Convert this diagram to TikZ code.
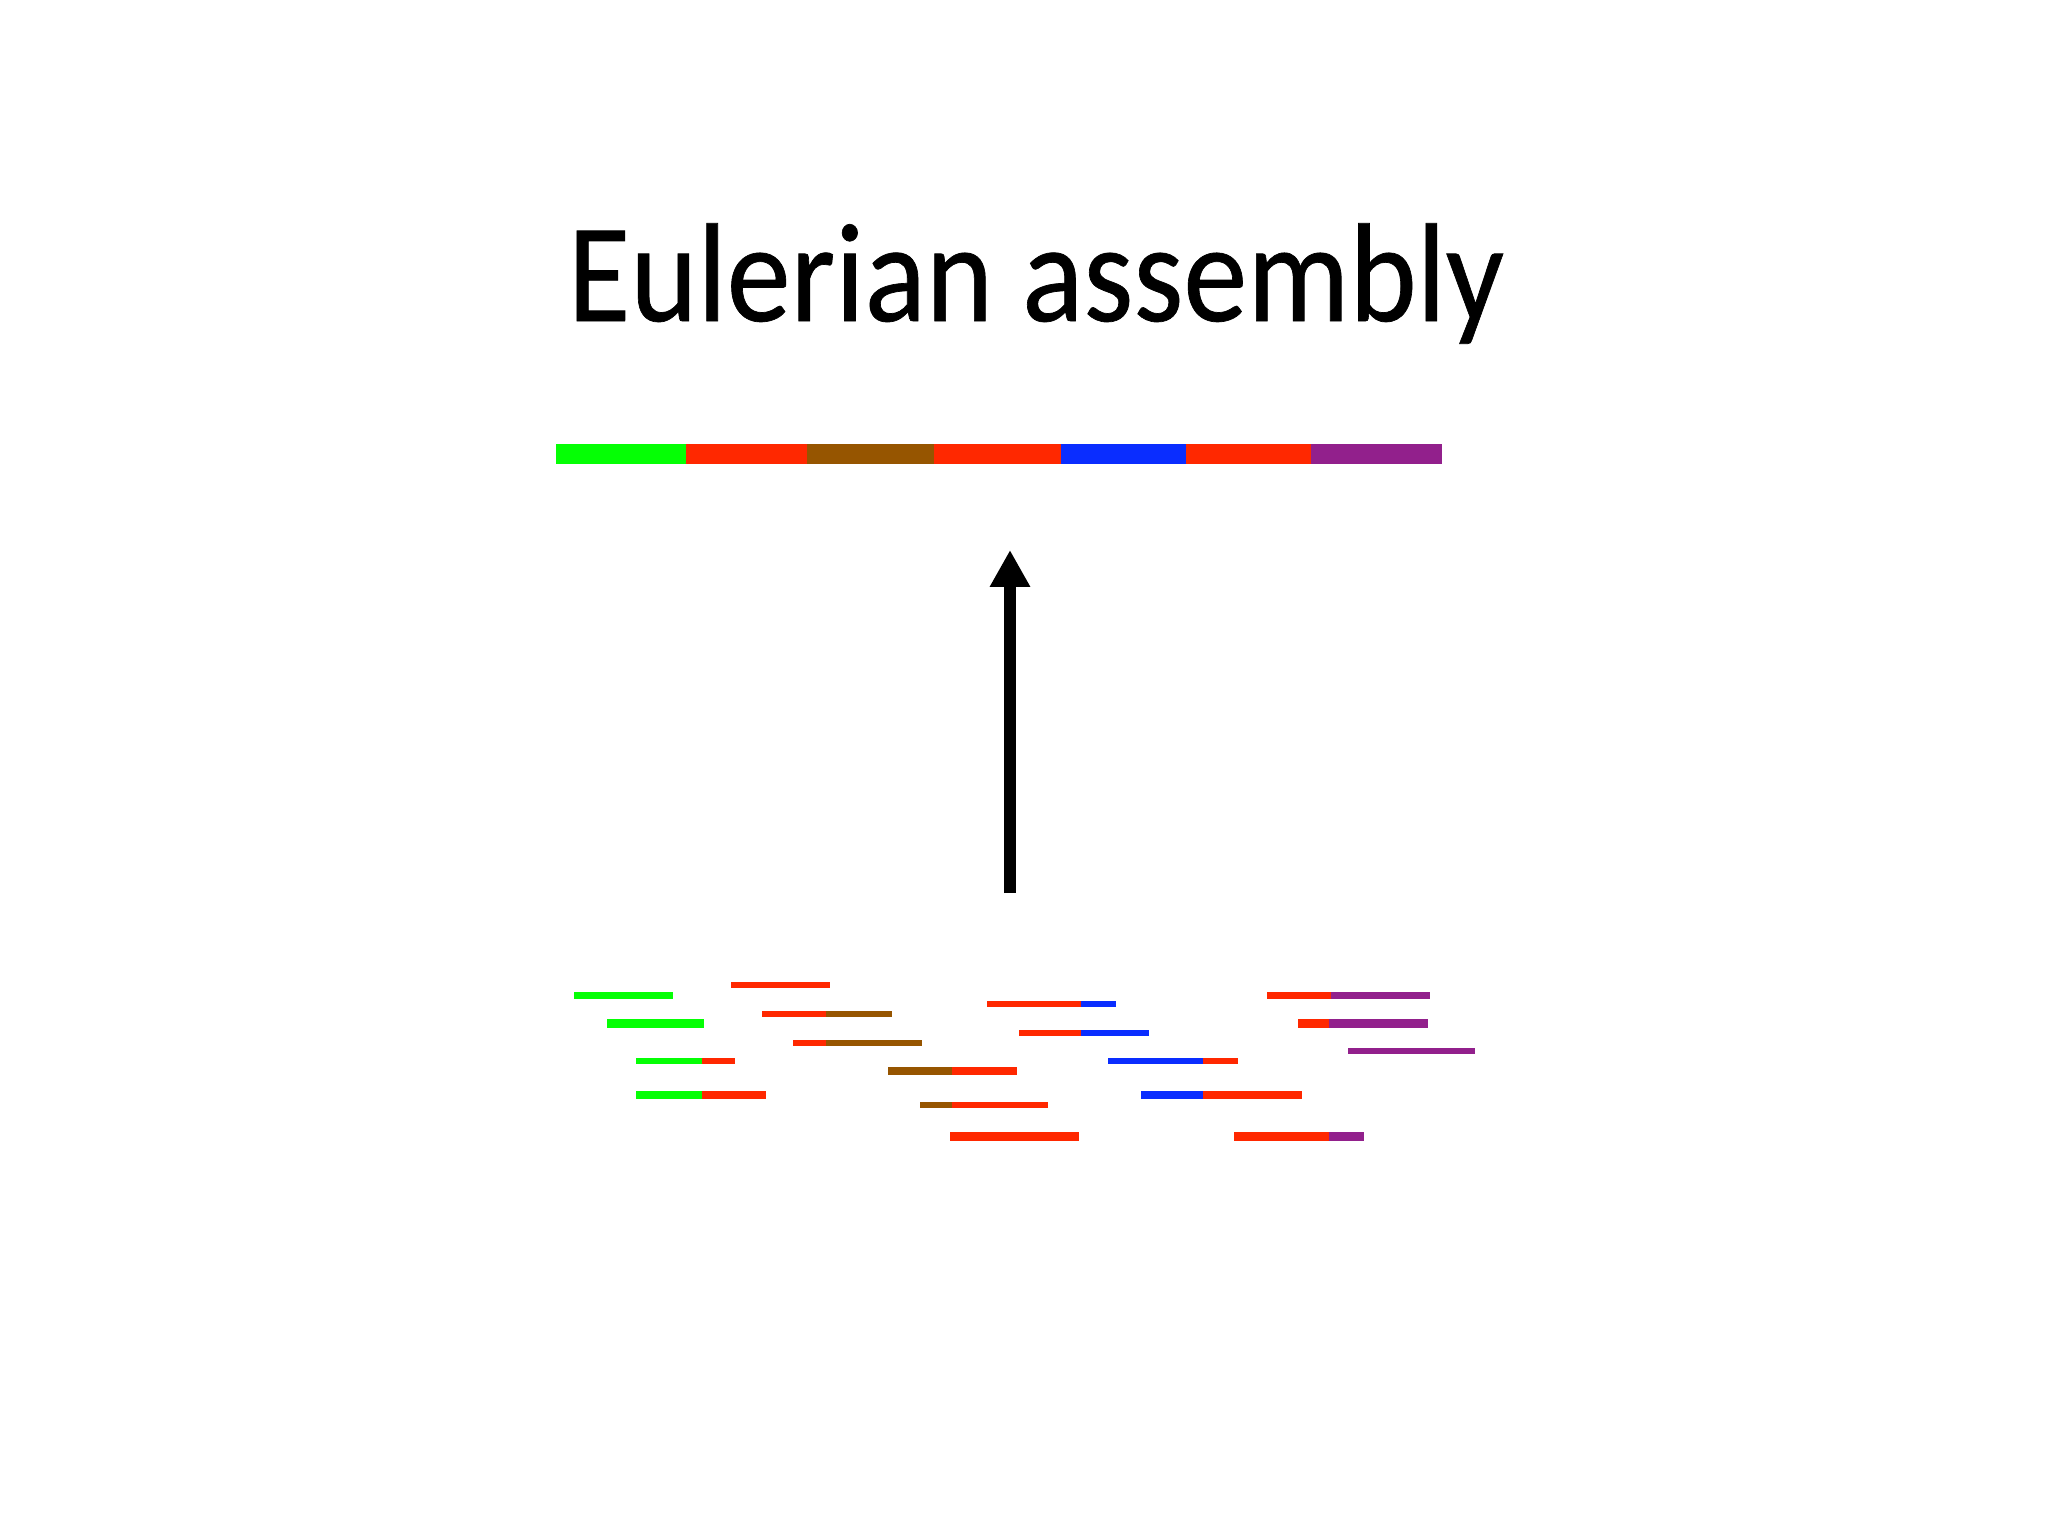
\documentclass[tikz,border=0pt]{standalone}
\usepackage{fontspec}
\setmainfont{Carlito}
\newfontfamily\titlefont{Carlito}[FakeBold=0.5]
\usetikzlibrary{arrows.meta}
\definecolor{kgreen}{RGB}{5,255,5}
\definecolor{kred}{RGB}{255,40,0}
\definecolor{kbrown}{RGB}{150,85,0}
\definecolor{kblue}{RGB}{10,45,255}
\definecolor{kpurple}{RGB}{146,32,140}
\tikzset{
    contig/.style={line width=5.7pt},
    thinread/.style={line width=1.75pt},
    thickread/.style={line width=2.3pt},
    title/.style={font=\titlefont\fontsize{40}{44}\selectfont, anchor=base, inner sep=0pt}
}
\begin{document}
\begin{tikzpicture}[x=0.01cm,y=-0.01cm]
        \useasboundingbox [fill=white] (0,0) rectangle (2048,1536);
        \node [title] (head) at (1036,321) {\scalebox{0.91}[1]{Eulerian assembly}};
        \draw [contig, kgreen] (556,454) -- (686,454);
        \draw [contig, kred] (686,454) -- (807,454);
        \draw [contig, kbrown] (807,454) -- (934,454);
        \draw [contig, kred] (934,454) -- (1061,454);
        \draw [contig, kblue] (1061,454) -- (1186,454);
        \draw [contig, kred] (1186,454) -- (1311,454);
        \draw [contig, kpurple] (1311,454) -- (1442,454);
        \coordinate (readtop) at (1010,893);
        \coordinate (contigbottom) at (1010,550);
        \draw [line width=3.6pt, -{Triangle[length=10.5pt, width=10.8pt]}] (readtop) -- (contigbottom);
        \draw [thinread, kred] (731,985) -- (830,985);
        \draw [thinread, kgreen] (574,995.5) -- (673,995.5);
        \draw [thinread, kred] (987,1004) -- (1081,1004);
        \draw [thinread, kblue] (1081,1004) -- (1116,1004);
        \draw [thinread, kred] (1267,995.5) -- (1331,995.5);
        \draw [thinread, kpurple] (1331,995.5) -- (1430,995.5);
        \draw [thinread, kred] (762,1014) -- (826,1014);
        \draw [thinread, kbrown] (826,1014) -- (892,1014);
        \draw [thickread, kgreen] (607,1023.5) -- (704,1023.5);
        \draw [thinread, kred] (1019,1033) -- (1081,1033);
        \draw [thinread, kblue] (1081,1033) -- (1149,1033);
        \draw [thickread, kred] (1298,1023.5) -- (1329,1023.5);
        \draw [thickread, kpurple] (1329,1023.5) -- (1428,1023.5);
        \draw [thinread, kred] (793,1043) -- (826,1043);
        \draw [thinread, kbrown] (826,1043) -- (922,1043);
        \draw [thinread, kpurple] (1348,1051) -- (1475,1051);
        \draw [thinread, kgreen] (636,1061) -- (702,1061);
        \draw [thinread, kred] (702,1061) -- (735,1061);
        \draw [thinread, kblue] (1108,1061) -- (1203,1061);
        \draw [thinread, kred] (1203,1061) -- (1238,1061);
        \draw [thickread, kbrown] (888,1071) -- (952,1071);
        \draw [thickread, kred] (952,1071) -- (1017,1071);
        \draw [thickread, kgreen] (636,1095) -- (702,1095);
        \draw [thickread, kred] (702,1095) -- (766,1095);
        \draw [thickread, kblue] (1141,1095) -- (1203,1095);
        \draw [thickread, kred] (1203,1095) -- (1302,1095);
        \draw [thinread, kbrown] (920,1105) -- (952,1105);
        \draw [thinread, kred] (952,1105) -- (1048,1105);
        \draw [thickread, kred] (950,1136.5) -- (1079,1136.5);
        \draw [thickread, kred] (1234,1136.5) -- (1329,1136.5);
        \draw [thickread, kpurple] (1329,1136.5) -- (1364,1136.5);
    \end{tikzpicture}
\end{document}
